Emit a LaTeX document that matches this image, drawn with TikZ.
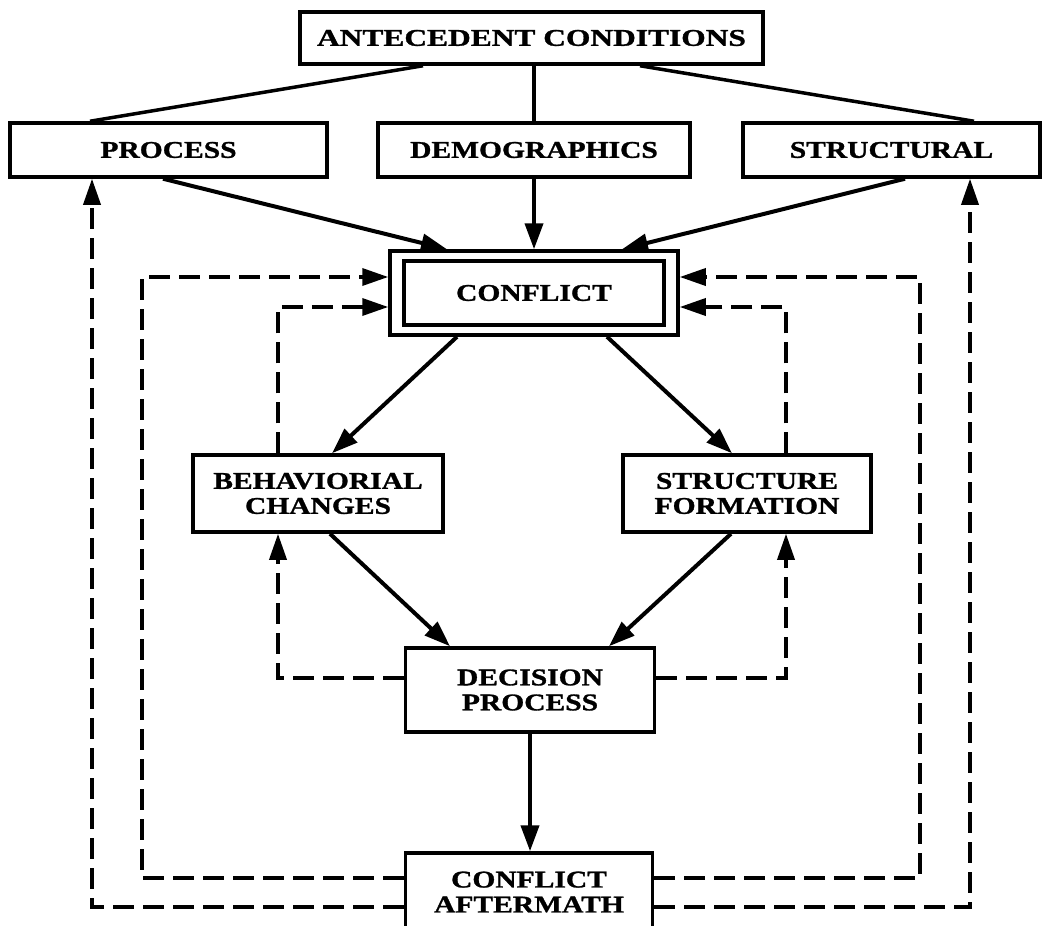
\documentclass[tikz,border=0pt]{standalone}
\usepackage{fontspec}
\usepackage{graphicx}
\setmainfont{Liberation Serif}[FakeStretch=1.23, BoldFeatures={FakeBold=1.2}]
\usetikzlibrary{arrows.meta}
\begin{document}
\begin{tikzpicture}[x=1pt,y=-1pt,
  box/.style={draw, line width=3.5pt, fill=white, inner sep=0pt, align=center,
    font=\bfseries\fontsize{24}{25}\selectfont},
  sol/.style={line width=4pt, -{Triangle[length=26pt,width=18pt]}},
  plain/.style={line width=3.5pt},
  dsh/.style={line width=3.5pt, dash pattern=on 21pt off 9pt},
  dar/.style={dsh, -{Triangle[length=26pt,width=17pt]}}]
\useasboundingbox (0,0) rectangle (1047,926);
% nodes
\node[box, minimum width=463pt, minimum height=52pt] (ant) at (531.5,38) {\scalebox{1.065}[1]{ANTECEDENT CONDITIONS}};
\node[box, minimum width=317pt, minimum height=54pt] (proc) at (168.5,150) {PROCESS};
\node[box, minimum width=312pt, minimum height=54pt] (demo) at (534,150) {DEMOGRAPHICS};
\node[box, minimum width=297pt, minimum height=54pt] (stru) at (891.5,150) {STRUCTURAL};
\node[box, minimum width=288pt, minimum height=84pt] (conflict) at (534,293) {};
\node[box, minimum width=260pt, minimum height=64pt] (conflictin) at (534,293) {CONFLICT};
\node[box, minimum width=250pt, minimum height=77pt] (beh) at (318,493.5) {BEHAVIORIAL\\CHANGES};
\node[box, minimum width=248pt, minimum height=77pt] (sf) at (747,493.5) {STRUCTURE\\FORMATION};
\node[box, minimum width=249pt, minimum height=84pt] (dec) at (530,690) {DECISION\\PROCESS};
\node[box, minimum width=247pt, minimum height=78pt] (aft) at (529,892) {CONFLICT\\AFTERMATH};
% helper coordinates
\coordinate (il) at (278,307);
\coordinate (ir) at (786,307);
\coordinate (ol) at (142,277);
\coordinate (or) at (920,277);
\coordinate (fl) at (92,907);
\coordinate (fr) at (970,907);
% antecedent links
\draw[plain] ([xshift=-108.5pt]ant.south) -- ([xshift=-78.5pt]proc.north);
\draw[plain] (demo.north |- ant.south) -- (demo.north);
\draw[plain] ([xshift=108.5pt]ant.south) -- ([xshift=82.5pt]stru.north);
% solid arrows
\draw[sol] ([xshift=-5.5pt]proc.south) -- ([xshift=-87pt]conflict.north);
\draw[sol] (demo.south) -- (conflict.north);
\draw[sol] ([xshift=13.5pt]stru.south) -- ([xshift=88pt]conflict.north);
\draw[sol] ([xshift=-77pt]conflict.south) -- ([xshift=14pt]beh.north);
\draw[sol] ([xshift=73pt]conflict.south) -- ([xshift=-15pt]sf.north);
\draw[sol] ([xshift=12pt]beh.south) -- ([xshift=-80pt]dec.north);
\draw[sol] ([xshift=-16pt]sf.south) -- ([xshift=79pt]dec.north);
\draw[sol] (dec.south) -- (dec.south |- aft.north);
% dashed feedback
\draw[dar] (beh.north -| il) -- (il) -- (il -| conflict.west);
\draw[dar] (sf.north -| ir) -- (ir) -- (ir -| conflict.east);
\draw[dar] ([yshift=12pt]dec.west) -| (beh.south -| il);
\draw[dar] ([yshift=12pt]dec.east) -| (sf.south -| ir);
\draw[dar] ([yshift=14pt]aft.west) -| (ol) -- (ol -| conflict.west);
\draw[dar] ([yshift=14pt]aft.east) -| (or) -- (or -| conflict.east);
\draw[dar] ([yshift=-15pt]aft.west) -| (proc.south -| fl);
\draw[dar] ([yshift=-15pt]aft.east) -| (stru.south -| fr);
\end{tikzpicture}
\end{document}
